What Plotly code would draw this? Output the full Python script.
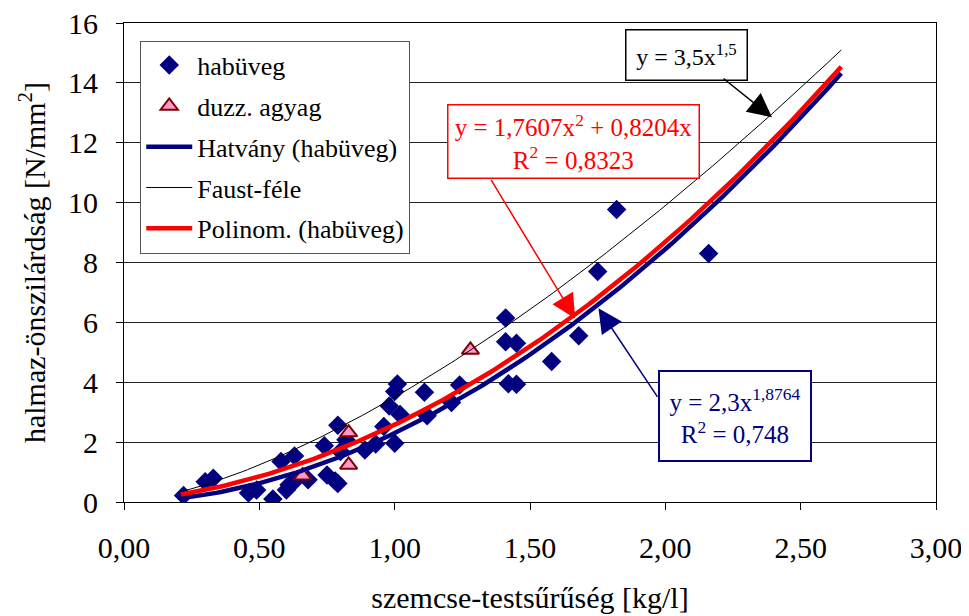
import numpy as np
import plotly.graph_objects as go

# ---- data ----
hab_x = [0.22, 0.30, 0.33, 0.46, 0.49, 0.55, 0.58, 0.60, 0.61, 0.63, 0.63, 0.68,
         0.74, 0.75, 0.78, 0.79, 0.79, 0.80, 0.82, 0.89, 0.93, 0.96, 0.98, 1.00,
         1.01, 1.00, 1.02, 1.11, 1.12, 1.21, 1.24, 1.41, 1.41, 1.45, 1.42, 1.45,
         1.58, 1.68, 1.75, 1.82, 2.16]
hab_y = [0.22, 0.68, 0.79, 0.30, 0.40, 0.10, 1.35, 0.40, 0.58, 0.69, 1.54, 0.74,
         1.88, 0.90, 0.70, 0.62, 2.56, 1.69, 2.08, 1.74, 1.94, 2.52, 3.21, 3.69,
         3.94, 1.96, 2.92, 3.67, 2.88, 3.32, 3.91, 6.15, 5.35, 5.30, 3.95, 3.93,
         4.69, 5.55, 7.70, 9.77, 8.30]
duzz_x = [0.66, 0.83, 0.83, 1.28]
duzz_y = [0.88, 2.32, 1.24, 5.08]

# trendline coefficients as printed on the chart
pow_a, pow_b = 2.3, 1.8764          # Hatvány
faust_a, faust_b = 3.5, 1.5         # Faust-féle
poly_a, poly_b = 1.7607, 0.8204     # Polinom.
trend_x0, trend_x1 = 0.21, 2.65

x_ticks = [0, 0.5, 1.0, 1.5, 2.0, 2.5, 3.0]
x_ticktext = ["0,00", "0,50", "1,00", "1,50", "2,00", "2,50", "3,00"]
y_ticks = [0, 2, 4, 6, 8, 10, 12, 14, 16]

xt = np.linspace(trend_x0, trend_x1, 150)
y_pow = pow_a * xt ** pow_b
y_faust = faust_a * xt ** faust_b
y_poly = poly_a * xt ** 2 + poly_b * xt

FONT = "Liberation Serif, Times New Roman, serif"
NAVY = "#000080"

fig = go.Figure()
fig.add_trace(go.Scatter(x=hab_x, y=hab_y, mode="markers", name="habüveg",
                         legendgroup="a",
                         marker=dict(symbol="diamond", size=15, color=NAVY,
                                     line=dict(width=0))))
fig.add_trace(go.Scatter(x=duzz_x, y=duzz_y, mode="markers", name="duzz. agyag",
                         legendgroup="b",
                         marker=dict(symbol="triangle-up", size=15, color="#FF99CC",
                                     line=dict(width=2, color="#800000"))))
fig.add_trace(go.Scatter(x=xt, y=y_pow, mode="lines", name="Hatvány (habüveg)",
                         legendgroup="c", line=dict(color=NAVY, width=4.5)))
fig.add_trace(go.Scatter(x=xt, y=y_faust, mode="lines", name="Faust-féle",
                         legendgroup="d", line=dict(color="black", width=1)))
fig.add_trace(go.Scatter(x=xt, y=y_poly, mode="lines", name="Polinom. (habüveg)",
                         legendgroup="e", line=dict(color="#FF0000", width=4.5)))

ann = []
# equation boxes
ann.append(dict(x=2.079, y=14.94, xref="x", yref="y", showarrow=False,
                text="y = 3,5x<sup>1,5</sup>", font=dict(family=FONT, size=24, color="black"),
                width=120, height=49, bordercolor="black", borderwidth=1.5, borderpad=0,
                bgcolor="white", xanchor="center", yanchor="middle"))
ann.append(dict(x=1.662, y=12.03, xref="x", yref="y", showarrow=False,
                text="y = 1,7607x<sup>2</sup> + 0,8204x<br>R<sup>2</sup> = 0,8323",
                font=dict(family=FONT, size=25, color="#FF0000"),
                width=250, height=72, bordercolor="#FF0000", borderwidth=1.5, borderpad=0,
                bgcolor="white", xanchor="center", yanchor="middle"))
ann.append(dict(x=2.258, y=2.88, xref="x", yref="y", showarrow=False,
                text="y = 2,3x<sup>1,8764</sup><br>R<sup>2</sup> = 0,748",
                font=dict(family=FONT, size=25, color=NAVY),
                width=150, height=88, bordercolor=NAVY, borderwidth=2, borderpad=0,
                bgcolor="white", xanchor="center", yanchor="middle"))
# arrows
ann.append(dict(x=2.394, y=12.85, xref="x", yref="y", text="", showarrow=True,
                ax=-50, ay=-40, arrowhead=2, arrowsize=3.2, arrowwidth=1.5,
                arrowcolor="black", standoff=0))
ann.append(dict(x=1.667, y=6.13, xref="x", yref="y", text="", showarrow=True,
                ax=-85, ay=-140, arrowhead=2, arrowsize=3.2, arrowwidth=1.5,
                arrowcolor="#FF0000", standoff=0))
ann.append(dict(x=1.753, y=6.47, xref="x", yref="y", text="", showarrow=True,
                ax=60, ay=90, arrowhead=2, arrowsize=3.2, arrowwidth=1.5,
                arrowcolor=NAVY, standoff=0))

fig.update_layout(
    width=969, height=616, autosize=False,
    margin=dict(l=116, r=41, t=15, b=122),
    paper_bgcolor="white", plot_bgcolor="white",
    font=dict(family=FONT, color="black", size=26),
    showlegend=True,
    legend=dict(x=0.02, y=0.963, xanchor="left", yanchor="top",
                bgcolor="white", bordercolor="#555555", borderwidth=1,
                font=dict(family=FONT, size=26, color="black"),
                traceorder="grouped", tracegroupgap=4, itemwidth=46),
    annotations=ann,
    xaxis=dict(range=[0, 3], tickvals=x_ticks, ticktext=x_ticktext,
               ticks="outside", ticklen=7, tickcolor="black", automargin=False,
               showline=True, linecolor="black", linewidth=1, mirror=True,
               showgrid=False, zeroline=False, ticklabelstandoff=12,
               ticklabeloverflow="allow",
               tickfont=dict(family=FONT, size=30, color="black"),
               title=dict(text="szemcse-testsűrűség [kg/l]",
                          font=dict(family=FONT, size=30, color="black"), standoff=23)),
    yaxis=dict(range=[0, 16], tickvals=y_ticks,
               ticks="outside", ticklen=7, tickcolor="black", automargin=False,
               showline=True, linecolor="black", linewidth=1, mirror=True,
               showgrid=True, gridcolor="#222222", gridwidth=1, zeroline=False,
               ticklabelstandoff=12, ticklabeloverflow="allow",
               tickfont=dict(family=FONT, size=30, color="black"),
               title=dict(text="halmaz-önszilárdság [N/mm<sup>2</sup>]",
                          font=dict(family=FONT, size=30, color="black"), standoff=13)),
)

fig.write_html("out.html")
